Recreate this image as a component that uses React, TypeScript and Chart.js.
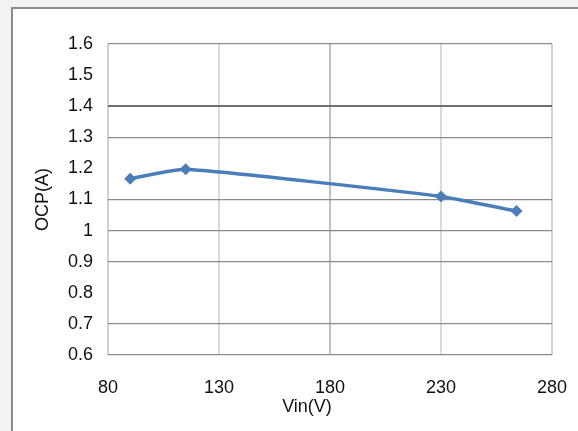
import React, { useEffect, useRef } from "react";
import { Chart, registerables } from "chart.js";

Chart.register(...registerables);

const vinValues = [90, 115, 230, 264];
const ocpValues = [1.167, 1.197, 1.11, 1.063];
const xTicks = [80, 130, 180, 230, 280];
const yTicks = [0.6, 0.7, 0.8, 0.9, 1.0, 1.1, 1.2, 1.3, 1.4, 1.5, 1.6];
const yGridLines = [0.6, 0.7, 0.9, 1.0, 1.1, 1.3, 1.4, 1.6];
const xTitle = "Vin(V)";
const yTitle = "OCP(A)";

const FONT = "'Liberation Sans', Arial, sans-serif";

const xTitlePlugin = {
  id: "xTitlePlugin",
  afterDraw(chart: any) {
    const { ctx, chartArea } = chart;
    ctx.save();
    ctx.font = `18px ${FONT}`;
    ctx.fillStyle = "#111";
    ctx.textAlign = "center";
    ctx.textBaseline = "middle";
    ctx.fillText(xTitle, chartArea.left + 199, 407);
    ctx.restore();
  },
};

export default function App() {
  const ref = useRef<HTMLCanvasElement | null>(null);

  useEffect(() => {
    document.body.style.margin = "0";
    const ctx = ref.current!;
    const chart = new Chart(ctx, {
      type: "scatter",
      data: {
        datasets: [
          {
            label: "OCP",
            data: vinValues.map((x, i) => ({ x, y: ocpValues[i] })),
            showLine: true,
            borderColor: "#4a7ebb",
            backgroundColor: "#4a7ebb",
            borderWidth: 3.5,
            tension: 0.15,
            pointStyle: "rectRot",
            pointRadius: 6,
            pointBorderWidth: 0,
            yAxisID: "y",
          },
        ],
      },
      options: {
        animation: false,
        responsive: false,
        devicePixelRatio: 1,
        layout: { padding: { left: 0, top: 44, right: 26, bottom: 0 } },
        plugins: { legend: { display: false }, tooltip: { enabled: false } },
        scales: {
          x: {
            type: "linear",
            min: 80,
            max: 280,
            afterBuildTicks: (s: any) => {
              s.ticks = xTicks.map((v) => ({ value: v }));
            },
            afterFit: (s: any) => {
              s.height = 76;
              s.paddingLeft = 0;
              s.paddingRight = 0;
            },
            border: { display: false },
            grid: {
              drawTicks: false,
              lineWidth: 2,
              color: (c: any) => {
                const v = c.tick?.value;
                if (v === 180) return "#c0c0c0";
                if (v === 80 || v === 280) return "#d0d0d0";
                return "#dadada";
              },
            },
            ticks: {
              padding: 22,
              color: "#111",
              font: { family: FONT, size: 18 },
              callback: (v: any) => String(v),
            },
            title: { display: false, text: xTitle },
          },
          y: {
            type: "linear",
            position: "left",
            min: 0.6,
            max: 1.6,
            afterBuildTicks: (s: any) => {
              s.ticks = yTicks.map((v) => ({ value: v }));
            },
            afterFit: (s: any) => {
              s.width = 108;
              s.paddingTop = 0;
              s.paddingBottom = 0;
            },
            border: { display: false },
            grid: { display: false, drawTicks: false },
            ticks: {
              padding: 15,
              color: "#111",
              font: { family: FONT, size: 18 },
              callback: (v: any) => {
                const n = Math.round(Number(v) * 10) / 10;
                return n === 1 ? "1" : n.toFixed(1);
              },
            },
            title: {
              display: true,
              text: yTitle,
              color: "#111",
              font: { family: FONT, size: 18 },
              padding: { top: 32, bottom: 0 },
            },
          },
          yGrid: {
            type: "linear",
            position: "left",
            min: 0.6,
            max: 1.6,
            afterBuildTicks: (s: any) => {
              s.ticks = yGridLines.map((v) => ({ value: v }));
            },
            afterFit: (s: any) => {
              s.width = 0;
              s.paddingTop = 0;
              s.paddingBottom = 0;
            },
            border: { display: false },
            ticks: { display: false },
            grid: {
              drawTicks: false,
              lineWidth: (c: any) => {
                const v = c.tick?.value;
                return v !== undefined && Math.abs(v - 1.4) < 1e-6 ? 2 : 1.2;
              },
              color: (c: any) => {
                const v = c.tick?.value;
                return v !== undefined && Math.abs(v - 1.4) < 1e-6 ? "#6f6f6f" : "#8a8a8a";
              },
            },
          },
        },
      },
      plugins: [xTitlePlugin],
    });
    return () => chart.destroy();
  }, []);

  return (
    <div
      style={{
        position: "fixed",
        left: 0,
        top: 0,
        width: 578,
        height: 431,
        background: "#f3f3f3",
        overflow: "hidden",
      }}
    >
      <div
        style={{
          position: "absolute",
          left: 11,
          top: 7,
          width: 600,
          height: 460,
          background: "#ffffff",
          borderTop: "2px solid #8c8c8c",
          borderLeft: "2px solid #8c8c8c",
        }}
      />
      <canvas
        ref={ref}
        width={578}
        height={431}
        style={{ position: "absolute", left: 0, top: 0, width: 578, height: 431 }}
      />
    </div>
  );
}
